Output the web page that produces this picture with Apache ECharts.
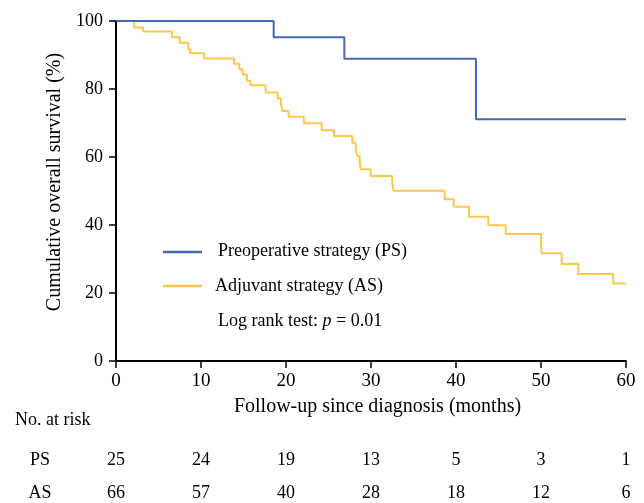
<!DOCTYPE html>
<html><head><meta charset="utf-8">
<script src="https://cdn.jsdelivr.net/npm/echarts@6/dist/echarts.min.js"></script>
<style>html,body{margin:0;padding:0;background:#fff}#c{width:644px;height:503px}</style>
</head><body><div id="c"></div>
<script>
// Kaplan–Meier step data (months, % surviving)
var psTimes  = [0, 18.55, 26.86, 42.35, 60];
var psValues = [100, 95.24, 88.89, 71.11, 71.11];
var asTimes  = [0, 2.15, 3.2, 6.6, 7.5, 8.5, 8.75, 10.35, 13.9, 14.5, 14.9, 15.4, 15.8, 17.6, 19.0, 19.4, 19.6, 20.3, 22.1, 24.2, 25.65, 27.8, 28.2, 28.4, 28.67, 28.8, 29.96, 32.5, 32.65, 38.67, 39.73, 41.53, 43.8, 45.85, 50.0, 50.08, 52.43, 54.4, 58.5, 60];
var asValues = [100, 98.1, 96.9, 95.2, 93.6, 91.7, 90.5, 89.0, 87.4, 85.8, 84.3, 82.4, 81.1, 79.0, 77.3, 75.5, 73.5, 71.85, 69.9, 67.9, 66.2, 64.2, 62.3, 60.3, 58.3, 56.4, 54.4, 52.4, 50.1, 47.6, 45.4, 42.4, 39.9, 37.35, 34.1, 31.7, 28.5, 25.6, 22.8, 22.8];
var riskTimes = [0, 10, 20, 30, 40, 50, 60];
var psAtRisk = [25, 24, 19, 13, 5, 3, 1];
var asAtRisk = [66, 57, 40, 28, 18, 12, 6];
var seriesNames = ['Preoperative strategy (PS)', 'Adjuvant strategy (AS)'];
var xTitle = 'Follow-up since diagnosis (months)';
var yTitle = 'Cumulative overall survival (%)';

var FONT = '"Liberation Serif","Times New Roman",serif';
var BLUE = '#4469b2', YELLOW = '#fdc64e';
function pairs(t, v){ return t.map(function(x,i){return [x, v[i]];}); }

var chart = echarts.init(document.getElementById('c'), null, {renderer:'canvas'});
var axisCommon = {
  axisLine:{show:true, lineStyle:{color:'#000', width:2}},
  axisTick:{show:true, inside:false, length:7, lineStyle:{color:'#000', width:1.5}},
  splitLine:{show:false}
};
chart.setOption({
  animation:false,
  grid:{left:116, right:18, top:21, bottom:142, containLabel:false},
  xAxis: Object.assign({}, axisCommon, {
    type:'value', min:0, max:60, interval:10,
    name:xTitle, nameLocation:'middle', nameGap:36,
    nameTextStyle:{color:'#000', fontFamily:FONT, fontSize:20, padding:[0,0,0,13]},
    axisLabel:{color:'#000', fontFamily:FONT, fontSize:19, margin:11}
  }),
  yAxis: Object.assign({}, axisCommon, {
    type:'value', min:0, max:100, interval:20,
    name:yTitle, nameLocation:'middle', nameGap:49,
    nameTextStyle:{color:'#000', fontFamily:FONT, fontSize:20, padding:[0,0,0,18]},
    axisLabel:{color:'#000', fontFamily:FONT, fontSize:18, margin:13}
  }),
  series:[
    {name:seriesNames[0], type:'line', step:'end', data:pairs(psTimes, psValues), symbol:'none',
     lineStyle:{color:BLUE, width:2}, z:3},
    {name:seriesNames[1], type:'line', step:'end', data:pairs(asTimes, asValues), symbol:'none',
     lineStyle:{color:YELLOW, width:2}, z:2}
  ]
});

var g = [];
function txt(x, y, s, align, extra){
  var o = {type:'text', x:x, y:y, style:{text:s, fill:'#000', font:'18px '+FONT, textAlign:align||'left', textVerticalAlign:'middle'}, silent:true};
  if (extra) Object.assign(o.style, extra);
  g.push(o);
}
// legend
g.push({type:'line', shape:{x1:163,y1:252,x2:202,y2:252}, style:{stroke:BLUE, lineWidth:2.5}});
g.push({type:'line', shape:{x1:163,y1:286,x2:202,y2:286}, style:{stroke:YELLOW, lineWidth:2.5}});
txt(218, 251, seriesNames[0]);
txt(215, 286, seriesNames[1]);
g.push({type:'text', x:218, y:321, silent:true, style:{
  text:'Log rank test: {i|p} = 0.01', fill:'#000', font:'18px '+FONT, textVerticalAlign:'middle',
  rich:{i:{fontStyle:'italic', fontFamily:FONT, fontSize:18, fill:'#000'}}
}});
// at-risk table
txt(15, 420, 'No. at risk');
txt(40, 460, 'PS', 'center');
txt(40, 493, 'AS', 'center');
riskTimes.forEach(function(t, i){
  var px = chart.convertToPixel({xAxisIndex:0}, t);
  txt(px, 460, String(psAtRisk[i]), 'center');
  txt(px, 493, String(asAtRisk[i]), 'center');
});
chart.setOption({graphic:g});
</script></body></html>
